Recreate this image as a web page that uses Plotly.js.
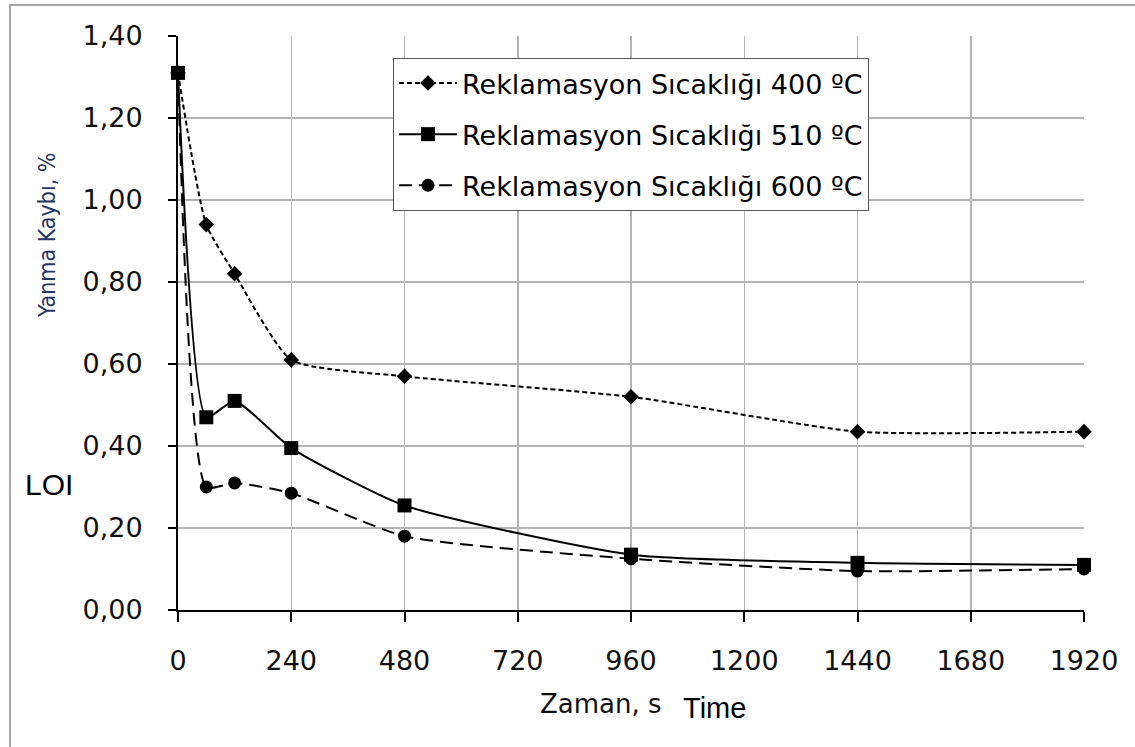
<!DOCTYPE html>
<html>
<head>
<meta charset="utf-8">
<script src="https://cdn.plot.ly/plotly-3.0.1.min.js"></script>
<style>
html,body{margin:0;padding:0;background:#fff;}
#chart{width:1135px;height:747px;}
</style>
</head>
<body>
<div id="chart"></div>
<script>
// Data
const timeS = [0, 60, 120, 240, 480, 960, 1440, 1920];
const loi400 = [1.31, 0.94, 0.82, 0.61, 0.57, 0.52, 0.435, 0.435];
const loi510 = [1.31, 0.47, 0.51, 0.395, 0.255, 0.135, 0.115, 0.11];
const loi600 = [1.31, 0.30, 0.31, 0.285, 0.18, 0.125, 0.095, 0.10];
const seriesNames = [
  'Reklamasyon Sıcaklığı 400 ºC',
  'Reklamasyon Sıcaklığı 510 ºC',
  'Reklamasyon Sıcaklığı 600 ºC'
];
const xTicks = [0, 240, 480, 720, 960, 1200, 1440, 1680, 1920];
const yTicks = [0, 0.2, 0.4, 0.6, 0.8, 1.0, 1.2, 1.4];
const yTickText = ['0,00', '0,20', '0,40', '0,60', '0,80', '1,00', '1,20', '1,40'];

const traces = [
  {
    x: timeS, y: loi400, name: seriesNames[0], type: 'scatter', mode: 'lines+markers',
    line: {color: '#000', width: 2, dash: '5px,3px', shape: 'spline', smoothing: 0.55},
    marker: {symbol: 'diamond', size: 12, color: '#000'},
    legendgroup: 'a', legendrank: 1, cliponaxis: false
  },
  {
    x: timeS, y: loi600, name: seriesNames[2], type: 'scatter', mode: 'lines+markers',
    line: {color: '#000', width: 2, dash: '13px,7px', shape: 'spline', smoothing: 0.55},
    marker: {symbol: 'circle', size: 13, color: '#000'},
    legendgroup: 'c', legendrank: 3, cliponaxis: false
  },
  {
    x: timeS, y: loi510, name: seriesNames[1], type: 'scatter', mode: 'lines+markers',
    line: {color: '#000', width: 2, shape: 'spline', smoothing: 0.55},
    marker: {symbol: 'square', size: 14, color: '#000'},
    legendgroup: 'b', legendrank: 2, cliponaxis: false
  }
];

const L = 178, R = 51, T = 36, B = 137;
const PW = 1135 - L - R, PH = 747 - T - B;
const px = v => (v - L) / PW;
const py = v => (747 - B - v) / PH;

const layout = {
  width: 1135, height: 747,
  margin: {l: L, r: R, t: T, b: B, pad: 0},
  paper_bgcolor: '#fff', plot_bgcolor: '#fff',
  showlegend: true,
  legend: {
    x: px(393), y: py(58), xanchor: 'left', yanchor: 'top',
    bgcolor: '#fff', bordercolor: '#555', borderwidth: 1,
    font: {family: 'DejaVu Sans', size: 27, color: '#000'},
    traceorder: 'grouped', tracegroupgap: 13, itemwidth: 58
  },
  xaxis: {
    range: [0, 1920], tickmode: 'array', tickvals: xTicks,
    ticks: 'outside', ticklen: 10, tickwidth: 2, tickcolor: '#000',
    showline: true, linecolor: '#000', linewidth: 2,
    showgrid: true, gridcolor: '#b4b4b4', gridwidth: 1.5,
    zeroline: false, ticklabelstandoff: 16,
    tickfont: {family: 'DejaVu Sans', size: 27, color: '#111'}
  },
  yaxis: {
    range: [0, 1.4], tickmode: 'array', tickvals: yTicks, ticktext: yTickText,
    ticks: 'outside', ticklen: 8, tickwidth: 2, tickcolor: '#000',
    showline: true, linecolor: '#000', linewidth: 2,
    showgrid: true, gridcolor: '#b4b4b4', gridwidth: 1.5,
    zeroline: false, ticklabelstandoff: 20,
    tickfont: {family: 'DejaVu Sans', size: 27, color: '#111'}
  },
  annotations: [
    {text: 'Yanma Kaybı, %', xref: 'paper', yref: 'paper', x: px(47), y: py(236),
     textangle: -90, showarrow: false, xanchor: 'center', yanchor: 'middle',
     font: {family: 'DejaVu Sans Condensed, Liberation Sans Narrow, sans-serif', size: 23, color: '#1f3864'}},
    {text: 'LOI', xref: 'paper', yref: 'paper', x: px(49), y: py(484),
     showarrow: false, xanchor: 'center', yanchor: 'middle',
     font: {family: 'Liberation Sans', size: 30, color: '#000'}},
    {text: 'Zaman, s', xref: 'paper', yref: 'paper', x: px(601), y: py(704),
     showarrow: false, xanchor: 'center', yanchor: 'middle',
     font: {family: 'DejaVu Sans', size: 26, color: '#111'}},
    {text: 'Time', xref: 'paper', yref: 'paper', x: px(714), y: py(708),
     showarrow: false, xanchor: 'center', yanchor: 'middle',
     font: {family: 'Liberation Sans', size: 29, color: '#000'}}
  ],
  shapes: [
    {type: 'rect', xref: 'paper', yref: 'paper', x0: px(10), x1: px(1200), y0: py(800), y1: py(5),
     line: {color: '#a8a8a8', width: 2}, fillcolor: 'rgba(0,0,0,0)', layer: 'below'}
  ]
};

Plotly.newPlot('chart', traces, layout, {displayModeBar: false, staticPlot: true});
</script>
</body>
</html>
